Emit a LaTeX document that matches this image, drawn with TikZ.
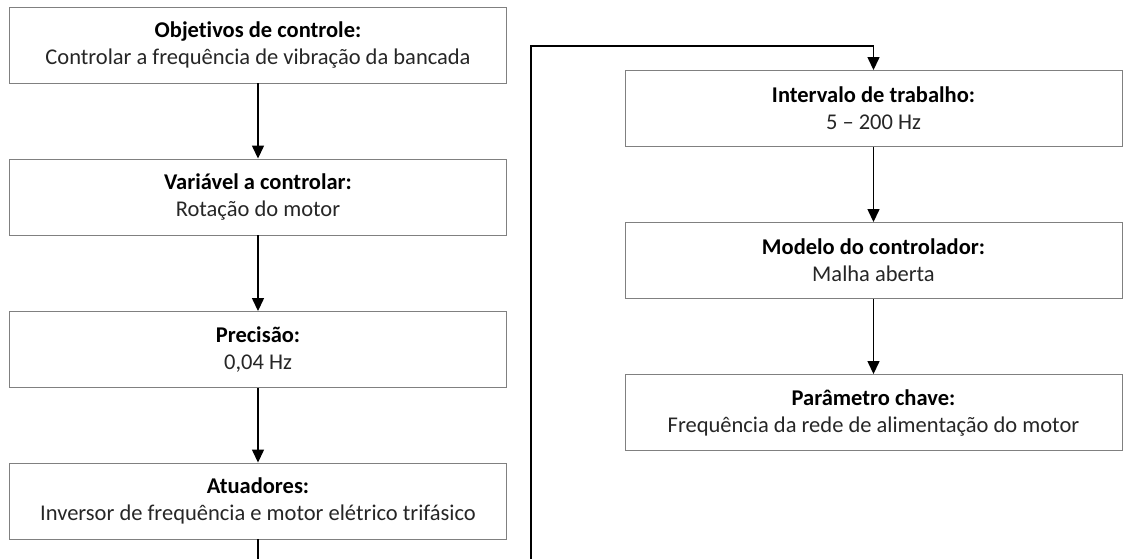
\documentclass[tikz,border=0pt]{standalone}
\usepackage{fontspec}
\setmainfont{Carlito}[Ligatures=NoCommon]
\usetikzlibrary{arrows.meta}
\begin{document}
\begin{tikzpicture}[x=1pt,y=-1pt,
  box/.style={draw=black!50, line width=0.9pt, minimum width=497pt, minimum height=76pt,
    inner sep=0pt, align=center, text=black!85, font=\fontsize{22.5}{27}\selectfont},
  conn/.style={line width=1.4pt, draw=black},
  arr/.style={conn, -{Triangle[length=13pt,width=12pt]}}]
\useasboundingbox (0,0) rectangle (1125,559);
\node[box] (a1) at (258,45) {\textbf{\color{black}Objetivos de controle:}\\Controlar a frequência de vibração da bancada};
\node[box] (a2) at (258,197) {\textbf{\color{black}Variável a controlar:}\\Rotação do motor};
\node[box] (a3) at (258,349.5) {\textbf{\color{black}Precisão:}\\0,04 Hz};
\node[box] (a4) at (258,501) {\textbf{\color{black}Atuadores:}\\Inversor de frequência e motor elétrico trifásico};
\node[box] (b1) at (873.5,108.5) {\textbf{\color{black}Intervalo de trabalho:}\\5 – 200 Hz};
\node[box] (b2) at (873.5,260.5) {\textbf{\color{black}Modelo do controlador:}\\Malha aberta};
\node[box] (b3) at (873.5,412.5) {\textbf{\color{black}Parâmetro chave:}\\Frequência da rede de alimentação do motor};
\coordinate (e1) at (258,559);
\coordinate (e2) at (531,559);
\coordinate (top) at (531,46);
\draw[arr] (a1) -- (a2);
\draw[arr] (a2) -- (a3);
\draw[arr] (a3) -- (a4);
\draw[conn] (a4) -- (e1);
\draw[arr] (e2) -- (top) -| (b1);
\draw[arr] (b1) -- (b2);
\draw[arr] (b2) -- (b3);
\end{tikzpicture}
\end{document}
